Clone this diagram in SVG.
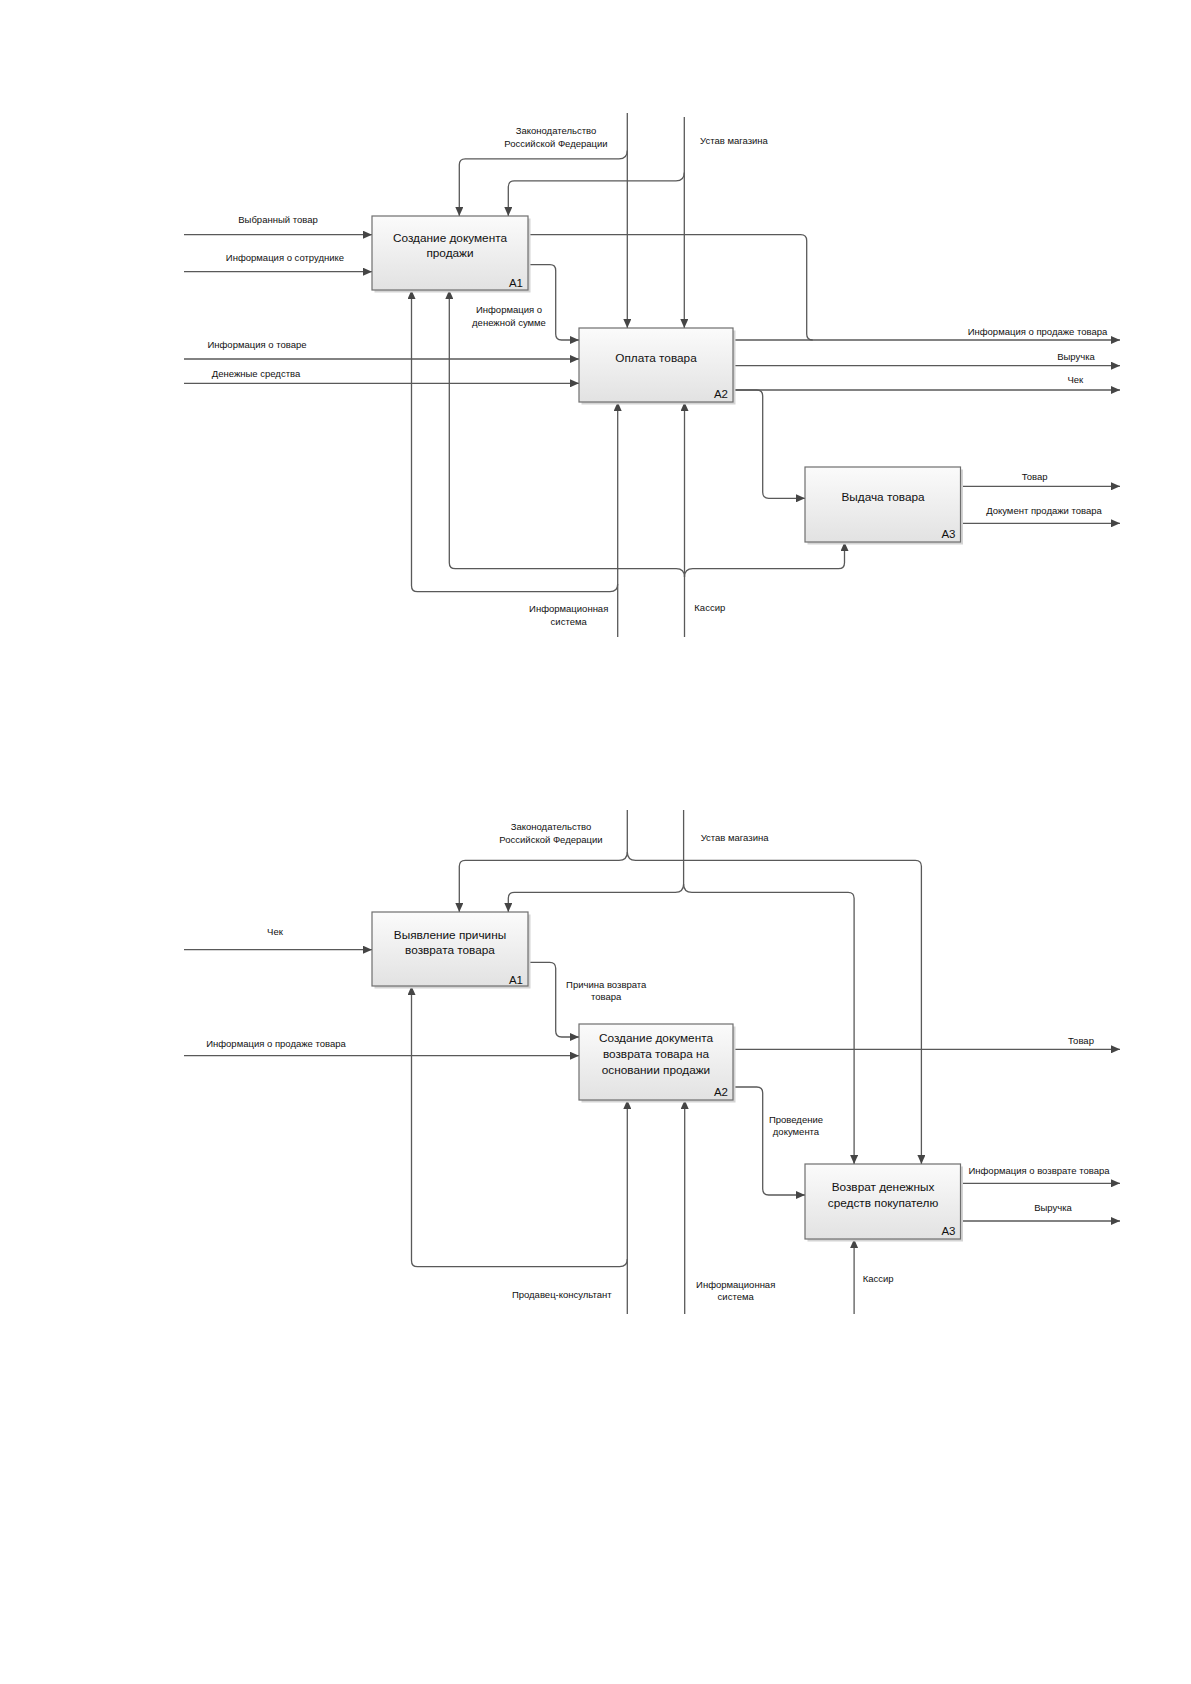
<svg xmlns="http://www.w3.org/2000/svg" width="1191" height="1684" viewBox="0 0 1191 1684">
<style>
.bg{fill:#ffffff}
.box{fill:url(#g);stroke:#6e6e6e;stroke-width:1.2}
.sh{fill:#d4d4d4}
.t{font-family:"Liberation Sans",Arial,sans-serif;font-size:11.8px;fill:#111;text-anchor:middle}
.id{font-family:"Liberation Sans",Arial,sans-serif;font-size:11.5px;fill:#111;text-anchor:end}
.l{font-family:"Liberation Sans",Arial,sans-serif;font-size:9.5px;fill:#111;text-anchor:middle}
.c{fill:none;stroke:#595959;stroke-width:1.3}
.a{marker-end:url(#ar)}
</style>
<defs>
<linearGradient id="g" x1="0" y1="0" x2="0" y2="1">
<stop offset="0" stop-color="#fbfbfb"/>
<stop offset="1" stop-color="#e2e2e2"/>
</linearGradient>
<marker id="ar" markerUnits="userSpaceOnUse" markerWidth="10" markerHeight="8" refX="9" refY="4" orient="auto">
<path d="M0,0 L9,4 L0,8 z" fill="#454545"/>
</marker>
</defs>
<rect class="bg" x="0" y="0" width="1191" height="1684"/>

<g id="connectors">
<!-- diagram 1 -->
<path class="c a" d="M184 234.7 H372"/>
<path class="c a" d="M184 271.7 H372"/>
<path class="c a" d="M184 359 H579"/>
<path class="c a" d="M184 383.3 H579"/>
<path class="c a" d="M528 264.7 H550 Q555.7 264.7 555.7 270.5 V334 Q555.7 340 561.5 340 H579"/>
<path class="c" d="M528 234.7 H800.7 Q806.7 234.7 806.7 240.7 V334 Q806.7 340 812.7 340"/>
<path class="c a" d="M733 340 H1120"/>
<path class="c a" d="M733 365.7 H1120"/>
<path class="c a" d="M733 390 H1120"/>
<path class="c a" d="M733 390 H756.7 Q762.7 390 762.7 396 V492.3 Q762.7 498.3 768.7 498.3 H805"/>
<path class="c a" d="M960.5 486.3 H1120"/>
<path class="c a" d="M960.5 523.3 H1120"/>
<path class="c a" d="M627.3 113 V328"/>
<path class="c a" d="M627.3 150.5 Q627.3 158.8 619 158.8 H465.3 Q459.3 158.8 459.3 164.8 V216"/>
<path class="c a" d="M684.3 117 V328"/>
<path class="c a" d="M684.3 172.5 Q684.3 180.8 676 180.8 H514.3 Q508.3 180.8 508.3 186.8 V216"/>
<path class="c a" d="M617.7 637 V402"/>
<path class="c a" d="M617.7 584 Q617.7 591.7 610 591.7 H417.5 Q411.5 591.7 411.5 585.7 V290"/>
<path class="c a" d="M684.5 637 V402"/>
<path class="c a" d="M684.5 577 Q684.5 568.7 676.2 568.7 H455.3 Q449.3 568.7 449.3 562.7 V290"/>
<path class="c a" d="M684.5 577 Q684.5 568.7 692.8 568.7 H838.5 Q844.5 568.7 844.5 562.7 V542"/>

<!-- diagram 2 -->
<path class="c a" d="M184 949.7 H372"/>
<path class="c a" d="M184 1055.7 H579"/>
<path class="c a" d="M528 962.3 H549.7 Q555.7 962.3 555.7 968.3 V1031 Q555.7 1037 561.7 1037 H579"/>
<path class="c a" d="M733 1049.3 H1120"/>
<path class="c a" d="M733 1087 H756.7 Q762.7 1087 762.7 1093 V1189 Q762.7 1195 768.7 1195 H805"/>
<path class="c a" d="M960.5 1183.3 H1120"/>
<path class="c a" d="M960.5 1221 H1120"/>
<path class="c" d="M627.3 810 V852"/>
<path class="c a" d="M627.3 852 Q627.3 860.3 619 860.3 H465.3 Q459.3 860.3 459.3 866.3 V912"/>
<path class="c a" d="M627.3 852 Q627.3 860.3 635.6 860.3 H915.4 Q921.4 860.3 921.4 866.3 V1164"/>
<path class="c" d="M683.6 810 V884"/>
<path class="c a" d="M683.6 884 Q683.6 892.3 675.3 892.3 H514.3 Q508.3 892.3 508.3 898.3 V912"/>
<path class="c a" d="M683.6 884 Q683.6 892.3 691.9 892.3 H848.1 Q854.1 892.3 854.1 898.3 V1164"/>
<path class="c a" d="M627.3 1314 V1100"/>
<path class="c a" d="M627.3 1259 Q627.3 1266.7 619.6 1266.7 H417.5 Q411.5 1266.7 411.5 1260.7 V986"/>
<path class="c a" d="M684.7 1314 V1100"/>
<path class="c a" d="M854.1 1314 V1239"/>
</g>

<g id="labels">
<text class="l" x="278" y="223">Выбранный товар</text>
<text class="l" x="285" y="260.5">Информация о сотруднике</text>
<text class="l" x="257" y="348">Информация о товаре</text>
<text class="l" x="256" y="377">Денежные средства</text>
<text class="l" x="509" y="313">Информация о</text>
<text class="l" x="509" y="326">денежной сумме</text>
<text class="l" x="556" y="133.5">Законодательство</text>
<text class="l" x="556" y="146.5">Российской Федерации</text>
<text class="l" x="734" y="144">Устав магазина</text>
<text class="l" x="1037.5" y="335">Информация о продаже товара</text>
<text class="l" x="1076" y="360">Выручка</text>
<text class="l" x="1075.3" y="382.5">Чек</text>
<text class="l" x="1034.6" y="480">Товар</text>
<text class="l" x="1044" y="513.5">Документ продажи товара</text>
<text class="l" x="568.7" y="612">Информационная</text>
<text class="l" x="568.7" y="625">система</text>
<text class="l" x="709.8" y="610.5">Кассир</text>

<text class="l" x="551" y="830">Законодательство</text>
<text class="l" x="551" y="843">Российской Федерации</text>
<text class="l" x="734.6" y="841">Устав магазина</text>
<text class="l" x="275" y="934.5">Чек</text>
<text class="l" x="606.2" y="987.5">Причина возврата</text>
<text class="l" x="606.2" y="999.5">товара</text>
<text class="l" x="276" y="1046.5">Информация о продаже товара</text>
<text class="l" x="1081" y="1043.5">Товар</text>
<text class="l" x="796" y="1123">Проведение</text>
<text class="l" x="796" y="1135">документа</text>
<text class="l" x="1039" y="1174">Информация о возврате товара</text>
<text class="l" x="1053" y="1211">Выручка</text>
<text class="l" x="561.8" y="1297.5">Продавец-консультант</text>
<text class="l" x="735.7" y="1287.5">Информационная</text>
<text class="l" x="735.7" y="1299.5">система</text>
<text class="l" x="878.2" y="1281.5">Кассир</text>
</g>

<g id="d1-A1">
<rect class="sh" x="374.5" y="218.5" width="156" height="74"/>
<rect class="box" x="372" y="216" width="156" height="74"/>
<text class="t" x="450" y="241.5">Создание документа</text>
<text class="t" x="450" y="256.5">продажи</text>
<text class="id" x="523" y="286.5">A1</text>
</g>
<g id="d1-A2">
<rect class="sh" x="581.5" y="330.5" width="154" height="74"/>
<rect class="box" x="579" y="328" width="154" height="74"/>
<text class="t" x="656" y="362">Оплата товара</text>
<text class="id" x="728" y="398">A2</text>
</g>
<g id="d1-A3">
<rect class="sh" x="807.5" y="469.5" width="155.5" height="75"/>
<rect class="box" x="805" y="467" width="155.5" height="75"/>
<text class="t" x="883" y="501">Выдача товара</text>
<text class="id" x="955.5" y="538">A3</text>
</g>

<g id="d2-A1">
<rect class="sh" x="374.5" y="914.5" width="156" height="74"/>
<rect class="box" x="372" y="912" width="156" height="74"/>
<text class="t" x="450" y="939">Выявление причины</text>
<text class="t" x="450" y="954">возврата товара</text>
<text class="id" x="523" y="983.5">A1</text>
</g>
<g id="d2-A2">
<rect class="sh" x="581.5" y="1026.5" width="154" height="76"/>
<rect class="box" x="579" y="1024" width="154" height="76"/>
<text class="t" x="656" y="1042">Создание документа</text>
<text class="t" x="656" y="1058">возврата товара на</text>
<text class="t" x="656" y="1074">основании продажи</text>
<text class="id" x="728" y="1096">A2</text>
</g>
<g id="d2-A3">
<rect class="sh" x="807.5" y="1166.5" width="155.5" height="75"/>
<rect class="box" x="805" y="1164" width="155.5" height="75"/>
<text class="t" x="883" y="1190.5">Возврат денежных</text>
<text class="t" x="883" y="1206.5">средств покупателю</text>
<text class="id" x="955.5" y="1235">A3</text>
</g>
</svg>
